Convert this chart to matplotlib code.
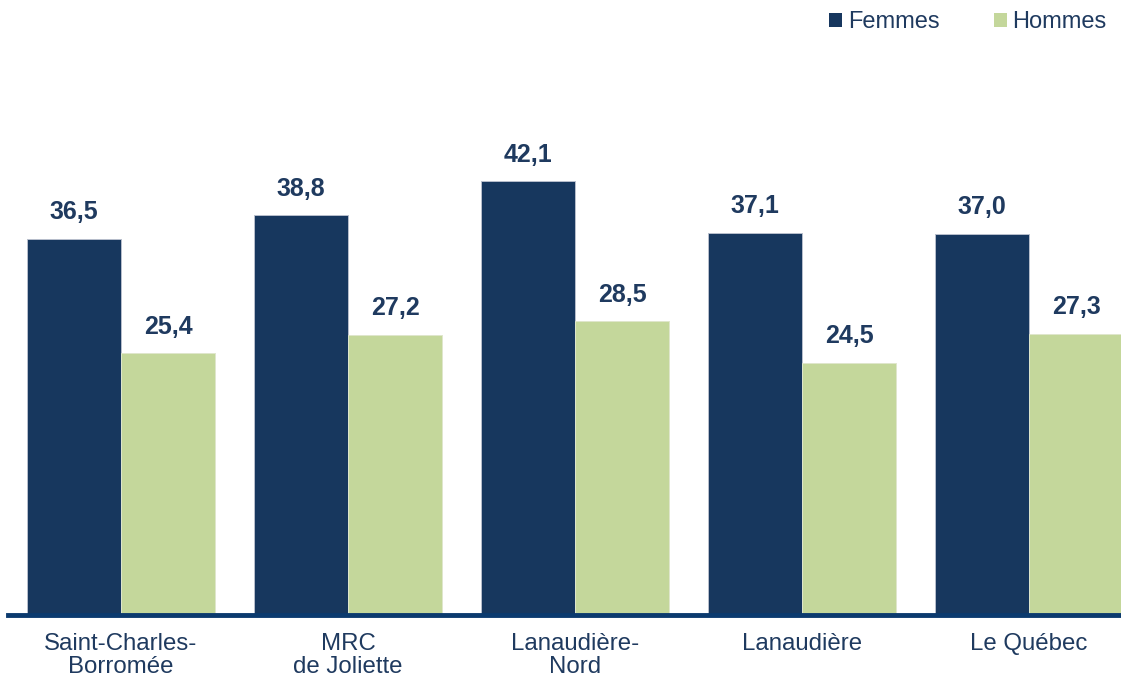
import matplotlib
matplotlib.use("Agg")
import matplotlib.pyplot as plt
from matplotlib.patches import Patch
import numpy as np

categories = ["Saint-Charles-\nBorromée", "MRC\nde Joliette", "Lanaudière-\nNord", "Lanaudière", "Le Québec"]
femmes = [36.5, 38.8, 42.1, 37.1, 37.0]
hommes = [25.4, 27.2, 28.5, 24.5, 27.3]
series_names = ["Femmes", "Hommes"]

c_f = "#17375e"
c_h = "#c4d79b"
txt = "#1f3a5f"

plt.rcParams['font.family'] = ['Liberation Sans', 'DejaVu Sans']

fig = plt.figure(figsize=(11.21, 6.8), dpi=100)
ax = fig.add_axes([8/1121, 65/680, (1121-8)/1121, 515/680])

x = np.arange(len(categories))
w = 94/227
bf = ax.bar(x - w/2, femmes, w, color=c_f, edgecolor="#b8bfcc", linewidth=0.7, clip_on=True)
bh = ax.bar(x + w/2, hommes, w, color=c_h, edgecolor="#dfe6cc", linewidth=0.7, clip_on=True)

for bars, vals in ((bf, femmes), (bh, hommes)):
    for b, v in zip(bars, vals):
        ax.annotate(f"{v:.1f}".replace(".", ","), (b.get_x() + b.get_width()/2, v),
                    xytext=(0, 10.5), textcoords="offset points", ha="center", va="bottom",
                    fontsize=18, fontweight="bold", color=txt)

ax.set_xlim(-0.498, 4.405)
ax.set_ylim(0, 50)
for s in ("top", "right", "left"):
    ax.spines[s].set_visible(False)
ax.spines["bottom"].set_color("#0b3a6e")
ax.spines["bottom"].set_linewidth(3.5)
ax.set_yticks([])
ax.set_xticks(x)
ax.set_xticklabels(categories, fontsize=17.3, color=txt, linespacing=1.08)
ax.tick_params(axis="x", length=0, pad=13)

handles = [Patch(facecolor=c_f, edgecolor="none"), Patch(facecolor=c_h, edgecolor="none")]
fig.legend(handles, series_names, loc="upper right", bbox_to_anchor=(1.0, 1.004),
           ncol=2, frameon=False, fontsize=17, handlelength=0.55, handleheight=0.55,
           handletextpad=0.25, columnspacing=2.3, labelcolor=txt, borderaxespad=0.2)

fig.savefig("out.png", dpi=100)
